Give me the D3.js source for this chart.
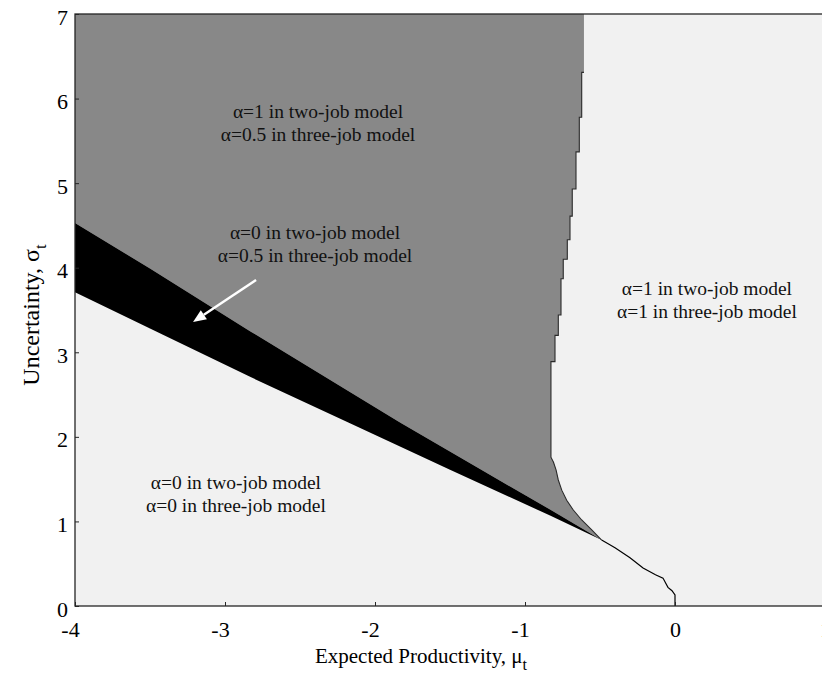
<!DOCTYPE html>
<html>
<head>
<meta charset="utf-8">
<script src="https://cdn.jsdelivr.net/npm/d3@7"></script>
<style>
  html, body { margin: 0; padding: 0; background: #ffffff; }
  svg { display: block; font-family: "Liberation Serif", "Times New Roman", serif; }
</style>
</head>
<body>
<script>
// Axis ticks
const xTicks = [-4, -3, -2, -1, 0, 1];
const yTicks = [0, 1, 2, 3, 4, 5, 6, 7];

// Upper edge of the black band (mu, sigma), left to right
const bandUpper = [[-4, 4.53], [-3.5, 3.99], [-2.833, 3.25], [-2.167, 2.53], [-1.833, 2.17], [-1.3, 1.62], [-0.833, 1.14], [-0.489, 0.78]];
// Lower edge of the black band (mu, sigma), left to right
const bandLower = [[-4, 3.71], [-3.5, 3.28], [-2.833, 2.71], [-2.167, 2.16], [-1.5, 1.61], [-0.833, 1.07], [-0.489, 0.78]];
// Boundary between the gray region and the right region, top to bottom
const rightBoundary = [
  [-0.607, 7], [-0.607, 6.31], [-0.622, 6.31], [-0.622, 5.78], [-0.638, 5.78], [-0.638, 5.37],
  [-0.66, 5.37], [-0.66, 4.93], [-0.685, 4.93], [-0.685, 4.61], [-0.70, 4.61], [-0.70, 4.33],
  [-0.718, 4.33], [-0.718, 4.10], [-0.745, 4.10], [-0.745, 3.87], [-0.76, 3.87], [-0.76, 3.44],
  [-0.778, 3.44], [-0.778, 3.20], [-0.80, 3.20], [-0.80, 2.89], [-0.827, 2.89], [-0.827, 1.76],
  [-0.81, 1.70], [-0.793, 1.61], [-0.778, 1.49], [-0.755, 1.37], [-0.722, 1.25], [-0.678, 1.135],
  [-0.622, 1.017], [-0.555, 0.90], [-0.489, 0.78]
];
// Thin boundary continuing from the cusp down to the axis
const tailLine = [[-0.489, 0.78], [-0.40, 0.69], [-0.30, 0.57], [-0.213, 0.45], [-0.13, 0.37],
  [-0.08, 0.33], [-0.047, 0.22], [-0.02, 0.18], [0, 0.13], [0, 0]];

// Region annotations: [mu, sigma of first baseline, line1, line2]
const regionLabels = [
  [-2.38, 5.77, "α=1 in two-job model", "α=0.5 in three-job model"],
  [-2.40, 4.34, "α=0 in two-job model", "α=0.5 in three-job model"],
  [0.213, 3.68, "α=1 in two-job model", "α=1 in three-job model"],
  [-2.927, 1.383, "α=0 in two-job model", "α=0 in three-job model"]
];
// Arrow pointing at the black band: [start, tip]
const arrowPts = [[-2.793, 3.855], [-3.213, 3.358]];

const W = 822, H = 679;
const svg = d3.select("body").append("svg").attr("width", W).attr("height", H);

const x = d3.scaleLinear().domain([-4, 1]).range([75, 825]);
const y = d3.scaleLinear().domain([0, 7]).range([606, 14]);

svg.append("defs").append("clipPath").attr("id", "plotClip")
  .append("rect").attr("x", x(-4)).attr("y", y(7))
  .attr("width", x(1) - x(-4)).attr("height", y(0) - y(7));

const plot = svg.append("g").attr("clip-path", "url(#plotClip)");
const line = d3.line().x(d => x(d[0])).y(d => y(d[1]));

// Background region
plot.append("rect").attr("x", x(-4)).attr("y", y(7))
  .attr("width", x(1) - x(-4)).attr("height", y(0) - y(7)).attr("fill", "#f1f1f1");

// Gray region
const grayPoly = [[-4, 7]].concat(rightBoundary, bandUpper.slice().reverse());
plot.append("path").attr("d", line(grayPoly) + "Z").attr("fill", "#888888");

// Black band
const bandPoly = bandUpper.concat(bandLower.slice().reverse());
plot.append("path").attr("d", line(bandPoly) + "Z").attr("fill", "#000000");

// Dark outline on the right boundary
plot.append("path").attr("d", line(rightBoundary.slice(1))).attr("fill", "none")
  .attr("stroke", "#2a2a2a").attr("stroke-width", 1.1);

// Thin tail line
plot.append("path").attr("d", line(tailLine)).attr("fill", "none")
  .attr("stroke", "#000").attr("stroke-width", 1.2);

// Region labels
regionLabels.forEach(([mu, s, l1, l2]) => {
  const t = svg.append("text").attr("x", x(mu)).attr("y", y(s))
    .attr("text-anchor", "middle").attr("font-size", 19.5).attr("fill", "#111");
  t.append("tspan").attr("x", x(mu)).text(l1);
  t.append("tspan").attr("x", x(mu)).attr("dy", "1.2em").text(l2);
});

// Arrow
const [a0, a1] = arrowPts;
const ax0 = x(a0[0]), ay0 = y(a0[1]), ax1 = x(a1[0]), ay1 = y(a1[1]);
const ang = Math.atan2(ay1 - ay0, ax1 - ax0);
const hl = 13, hw = 5.5;
const bx = ax1 - hl * Math.cos(ang), by = ay1 - hl * Math.sin(ang);
svg.append("line").attr("x1", ax0).attr("y1", ay0).attr("x2", bx).attr("y2", by)
  .attr("stroke", "#fff").attr("stroke-width", 2.5);
svg.append("path")
  .attr("d", `M${ax1},${ay1}L${bx + hw * Math.sin(ang)},${by - hw * Math.cos(ang)}L${bx - hw * Math.sin(ang)},${by + hw * Math.cos(ang)}Z`)
  .attr("fill", "#fff");

// Frame
svg.append("rect").attr("x", x(-4)).attr("y", y(7))
  .attr("width", x(1) - x(-4)).attr("height", y(0) - y(7))
  .attr("fill", "none").attr("stroke", "#262626").attr("stroke-width", 1.3);

// Axes (plain hyphen-minus for negative tick labels)
const fmt = d => String(d);
const xAxis = d3.axisBottom(x).tickValues(xTicks).tickSize(-4).tickPadding(0).tickFormat(fmt);
const gx = svg.append("g").attr("transform", `translate(0,${y(0)})`).call(xAxis);
gx.attr("font-family", null);
gx.select(".domain").remove();
gx.selectAll(".tick line").attr("stroke", "#262626");
gx.selectAll(".tick text").attr("font-size", 22).attr("fill", "#000")
  .attr("dy", null).attr("y", 31)
  .attr("dx", d => d < 0 ? -5 : 0);

const yAxis = d3.axisLeft(y).tickValues(yTicks).tickSize(-4).tickPadding(0).tickFormat(fmt);
const gy = svg.append("g").attr("transform", `translate(${x(-4)},0)`).call(yAxis);
gy.attr("font-family", null);
gy.select(".domain").remove();
gy.selectAll(".tick line").attr("stroke", "#262626");
gy.selectAll(".tick text").attr("font-size", 22).attr("fill", "#000")
  .attr("x", -7).attr("dy", null).attr("y", 10);

// Axis titles
const xt = svg.append("text").attr("x", 421).attr("y", 663).attr("text-anchor", "middle")
  .attr("font-size", 21).attr("fill", "#000");
xt.append("tspan").text("Expected Productivity, μ");
xt.append("tspan").attr("font-size", 16).attr("dy", 7).text("t");

const yt = svg.append("text").attr("transform", "translate(39,315) rotate(-90)")
  .attr("text-anchor", "middle").attr("font-size", 24).attr("fill", "#000");
yt.append("tspan").text("Uncertainty, σ");
yt.append("tspan").attr("font-size", 17).attr("dy", 7).text("t");
</script>
</body>
</html>
